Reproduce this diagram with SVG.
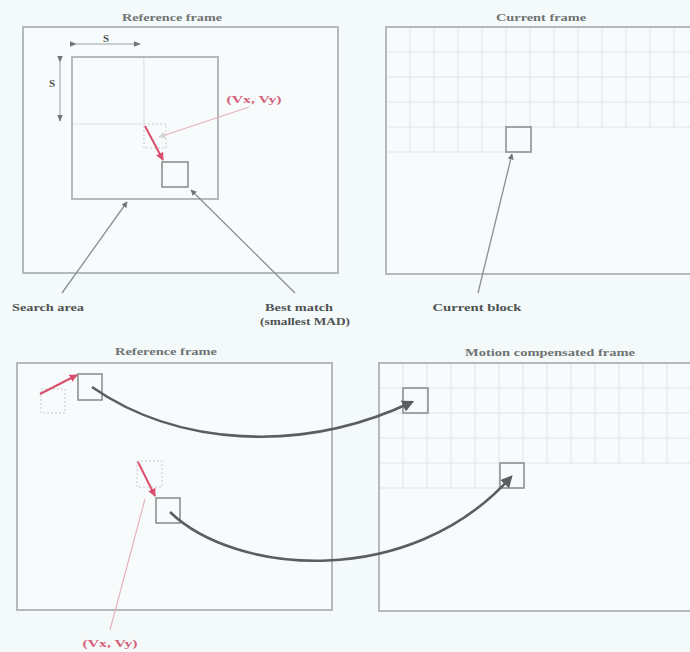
<svg xmlns="http://www.w3.org/2000/svg" width="690" height="652" viewBox="0 0 690 652">
<defs>
<style>
.bg{fill:#f4f9f9}
.frame{fill:#f7fbfb;stroke:#b4b9b9;stroke-width:2}
.grid{stroke:#dfe5e5;stroke-width:1;fill:none}
.blk{fill:none;stroke:#8c9191;stroke-width:1.6}
.dash{fill:none;stroke:#c4c9c9;stroke-width:1;stroke-dasharray:2 2}
.guide{stroke:#dde2e2;stroke-width:1.2;fill:none}
.title{font-family:"Liberation Serif",serif;font-weight:bold;font-size:11px;fill:#6f7474;text-anchor:middle}
.lbl{font-family:"Liberation Serif",serif;font-weight:bold;font-size:11px;fill:#4e5353;text-anchor:middle}
.red{font-family:"Liberation Serif",serif;font-weight:bold;font-size:10px;fill:#d4607a;text-anchor:middle}
.lead{stroke:#8a8f8f;stroke-width:1.3;fill:none}
.leadr{stroke:#e7b3be;stroke-width:1.2;fill:none}
.vec{stroke:#d8506e;stroke-width:2;fill:none}
.curve{stroke:#595e5e;stroke-width:2.6;fill:none}
.dim{stroke:#9a9f9f;stroke-width:1;fill:none}
</style>
<marker id="ah" viewBox="0 0 10 10" refX="9" refY="5" markerWidth="6" markerHeight="6" orient="auto" markerUnits="userSpaceOnUse"><path d="M0,0 L10,5 L0,10 z" fill="#6f7474"/></marker>
<marker id="ahr" viewBox="0 0 10 10" refX="9" refY="5" markerWidth="8" markerHeight="8" orient="auto" markerUnits="userSpaceOnUse"><path d="M0,0 L10,5 L0,10 z" fill="#d8506e"/></marker>
<marker id="ahl" viewBox="0 0 10 10" refX="9" refY="5" markerWidth="7" markerHeight="7" orient="auto" markerUnits="userSpaceOnUse"><path d="M0,0 L10,5 L0,10 z" fill="#d0d5d5"/></marker>
<marker id="ahc" viewBox="0 0 10 10" refX="8" refY="5" markerWidth="12" markerHeight="12" orient="auto" markerUnits="userSpaceOnUse"><path d="M0,0 L10,5 L0,10 z" fill="#595e5e"/></marker>
<marker id="ahd" viewBox="0 0 10 10" refX="9" refY="5" markerWidth="7" markerHeight="7" orient="auto" markerUnits="userSpaceOnUse"><path d="M0,1 L10,5 L0,9 z" fill="#6f7474"/></marker>
</defs>
<rect class="bg" x="0" y="0" width="690" height="652"/>

<g id="ref-frame-top">
<rect class="frame" x="23" y="27" width="315" height="246"/>
<text class="title" x="172" y="21" textLength="100" lengthAdjust="spacingAndGlyphs">Reference frame</text>
</g>

<g id="search-area">
<rect class="frame" x="72" y="57" width="146" height="142" fill="none"/>
<line class="guide" x1="144" y1="58" x2="144" y2="124"/>
<line class="guide" x1="73" y1="124" x2="144" y2="124"/>
<rect class="dash" x="144" y="124" width="22" height="24"/>
</g>

<g id="dim-s">
<line class="dim" x1="76" y1="44" x2="140" y2="44" marker-start="url(#ahd)" marker-end="url(#ahd)"/>
<text class="lbl" x="106" y="42" font-size="10">S</text>
<line class="dim" x1="60" y1="62" x2="60" y2="121" marker-start="url(#ahd)" marker-end="url(#ahd)"/>
<text class="lbl" x="52" y="87" font-size="10">S</text>
</g>

<g id="best-match">
<rect class="blk" x="162" y="162" width="26" height="25"/>
</g>

<g id="current-frame">
<rect class="frame" x="386" y="27" width="320" height="247"/>
<text class="title" x="541" y="21" textLength="90" lengthAdjust="spacingAndGlyphs">Current frame</text>
<path class="grid" d="M387,52H690M387,77H690M387,102H690M387,127H690M387,152H506
M410,28V152M434,28V152M458,28V152M482,28V152M506,28V127M530,28V127M554,28V127M578,28V127M602,28V127M626,28V127M650,28V127M674,28V127"/>
</g>

<g id="current-block">
<rect class="blk" x="506" y="127" width="25" height="25"/>
</g>

<g id="ref-frame-bottom">
<rect class="frame" x="17" y="363" width="315" height="247"/>
<text class="title" x="166" y="355" textLength="102" lengthAdjust="spacingAndGlyphs">Reference frame</text>
<rect class="dash" x="41" y="389" width="24" height="24"/>
<rect class="blk" x="78" y="374" width="24" height="26"/>
<rect class="dash" x="137" y="461" width="25" height="26"/>
<rect class="blk" x="156" y="498" width="24" height="25"/>
</g>

<g id="mc-frame">
<rect class="frame" x="379" y="363" width="320" height="248"/>
<text class="title" x="550" y="356" textLength="170" lengthAdjust="spacingAndGlyphs">Motion compensated frame</text>
<path class="grid" d="M380,388H690M380,413H690M380,438H690M380,463H690M380,488H500
M403,364V488M427,364V488M451,364V488M475,364V488M499,364V488M523,364V463M547,364V463M571,364V463M595,364V463M619,364V463M643,364V463M667,364V463"/>
<rect class="blk" x="403" y="388" width="25" height="25"/>
<rect class="blk" x="500" y="463" width="24" height="25"/>
</g>

<g id="labels">
<text class="lbl" x="48" y="311" textLength="72" lengthAdjust="spacingAndGlyphs">Search area</text>
<text class="lbl" x="299" y="311" textLength="68" lengthAdjust="spacingAndGlyphs">Best match</text>
<text class="lbl" x="305" y="325" textLength="90" lengthAdjust="spacingAndGlyphs">(smallest MAD)</text>
<text class="lbl" x="477" y="311" textLength="89" lengthAdjust="spacingAndGlyphs">Current block</text>
<text class="red" x="254" y="103" textLength="55" lengthAdjust="spacingAndGlyphs">(Vx, Vy)</text>
<text class="red" x="110" y="647" textLength="55" lengthAdjust="spacingAndGlyphs">(Vx, Vy)</text>
</g>

<g id="connectors">
<line class="lead" x1="62" y1="293" x2="127" y2="202" marker-end="url(#ah)"/>
<line class="lead" x1="295" y1="293" x2="191" y2="190" marker-end="url(#ah)"/>
<line class="lead" x1="478" y1="293" x2="512" y2="154" marker-end="url(#ah)"/>
<line class="leadr" x1="249" y1="107" x2="159" y2="137" marker-end="url(#ahl)"/>
<line class="vec" x1="145" y1="126" x2="163" y2="160" marker-end="url(#ahr)"/>
<line class="vec" x1="40" y1="394" x2="77" y2="375" marker-end="url(#ahr)"/>
<line class="vec" x1="138" y1="462" x2="155" y2="496" marker-end="url(#ahr)"/>
<line class="leadr" x1="110" y1="630" x2="145" y2="499"/>
<path class="curve" d="M92,387 C175,445 300,455 412,402" marker-end="url(#ahc)"/>
<path class="curve" d="M170,512 C235,575 410,590 511,477" marker-end="url(#ahc)"/>
</g>
</svg>
